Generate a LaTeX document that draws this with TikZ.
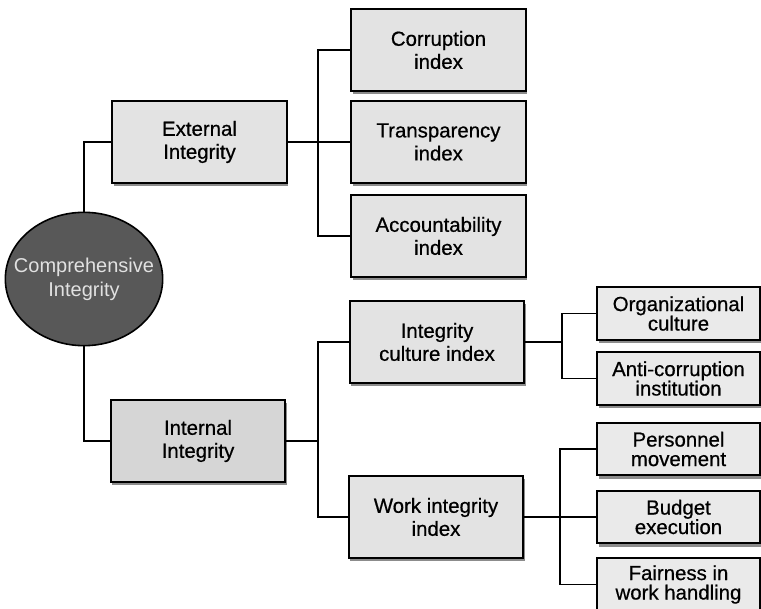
\documentclass[tikz,border=0pt]{standalone}
\usepackage{fontspec}
\setmainfont{Liberation Sans}
\newfontfamily\boxfont{Liberation Sans}[FakeBold=0.6]
\usetikzlibrary{shapes.geometric,shadows}
\lineskiplimit=-20pt

\begin{document}
\begin{tikzpicture}[x=0.75pt,y=0.75pt,yscale=-1,xscale=1,
        box/.style={draw=black, line width=1.5pt, fill={rgb, 255:red, 227; green, 227; blue, 227 }, align=center, inner sep=0pt,
          minimum width=131pt, minimum height=61.5pt, font=\boxfont\fontsize{15.3}{17.25}\selectfont,
          drop shadow={shadow xshift=1.2pt, shadow yshift=-2.5pt, fill=black, opacity=0.45}},
        leaf/.style={box, fill={rgb, 255:red, 234; green, 234; blue, 234 }, minimum width=122pt, minimum height=39.5pt,
          font=\boxfont\fontsize{15.3}{14.6}\selectfont},
        link/.style={line width=1.4pt}]
        \useasboundingbox (0,0) rectangle (761,609);

        %Shape: Ellipse
        \node [ellipse, draw=black, line width=1.2pt, fill={rgb, 255:red, 88; green, 88; blue, 88 }, text={rgb, 255:red, 225; green, 225; blue, 225 },
          minimum width=118pt, minimum height=100pt, inner xsep=-14pt, inner ysep=0pt, align=center,
          font=\fontsize{15}{18}\selectfont] (comp) at (84,279) {Comprehensive\\Integrity};

        %Shape: Rectangle
        \node [box] (ext) at (199.5,142) {External\\Integrity};
        \node [box, fill={rgb, 255:red, 214; green, 214; blue, 214 }] (int) at (198,441) {Internal\\Integrity};

        %Shape: Rectangle
        \node [box] (corr) at (438.5,50) {Corruption\\index};
        \node [box] (trans) at (438.5,142) {Transparency\\index};
        \node [box] (acc) at (438.5,236) {Accountability\\index};
        \node [box] (cult) at (437,342) {Integrity\\culture index};
        \node [box] (work) at (436,517) {Work integrity\\index};

        %Shape: Rectangle
        \node [leaf] (org) at (678.5,313.5) {Organizational\\culture};
        \node [leaf] (anti) at (678.5,378.5) {Anti-corruption\\institution};
        \node [leaf] (pers) at (678.5,449) {Personnel\\movement};
        \node [leaf] (budg) at (678.5,517) {Budget\\execution};
        \node [leaf] (fair) at (678.5,584.5) {Fairness in\\work handling};

        \coordinate (extbus) at (318,142);
        \coordinate (intbus) at (318,441);
        \coordinate (cultbus) at (562,342);
        \coordinate (workbus) at (560,517);

        %Straight Lines
        \draw [link] (comp) |- (ext);
        \draw [link] (comp) |- (int);
        %Straight Lines
        \draw [link] (ext) -- (extbus) -- (trans);
        \draw [link] (extbus) |- (corr);
        \draw [link] (extbus) |- (acc);
        %Straight Lines
        \draw [link] (int) -- (intbus);
        \draw [link] (intbus) |- (cult);
        \draw [link] (intbus) |- (work);
        %Straight Lines
        \draw [link] (cult) -- (cultbus);
        \draw [link] (cultbus) |- (org);
        \draw [link] (cultbus) |- (anti);
        %Straight Lines
        \draw [link] (work) -- (workbus) -- (budg);
        \draw [link] (workbus) |- (pers);
        \draw [link] (workbus) |- (fair);

\end{tikzpicture}
\end{document}
